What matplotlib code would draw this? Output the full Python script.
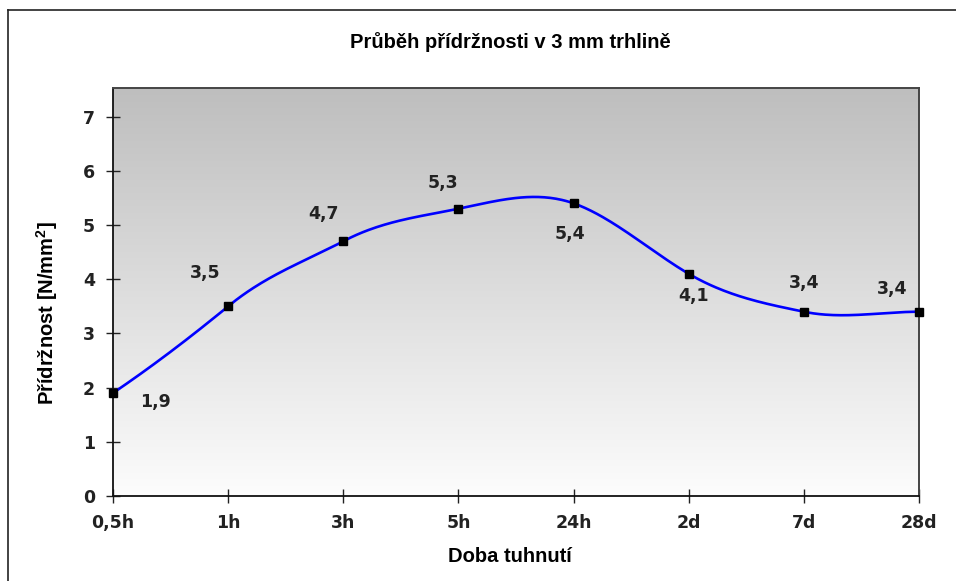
import numpy as np
import matplotlib
matplotlib.use("Agg")
import matplotlib.pyplot as plt
from matplotlib.lines import Line2D

categories = ["0,5h", "1h", "3h", "5h", "24h", "2d", "7d", "28d"]
values = [1.9, 3.5, 4.7, 5.3, 5.4, 4.1, 3.4, 3.4]
value_labels = ["1,9", "3,5", "4,7", "5,3", "5,4", "4,1", "3,4", "3,4"]
label_offsets = [(42, -9), (-23, 33), (-20, 27), (-15, 26), (-4, -31), (5, -22), (0, 29), (-27, 23)]
yticks = [0, 1, 2, 3, 4, 5, 6, 7]

W, H = 956, 581
fig = plt.figure(figsize=(W / 100, H / 100), dpi=100)
fig.patch.set_facecolor("white")

L, R, T, B = 113, 919, 88, 496
ax = fig.add_axes([L / W, 1 - B / H, (R - L) / W, (B - T) / H])
ymax = (496 - 88) / 54.2
nx = len(categories) - 1

# gradient background (dark at top, white at bottom)
grad = np.linspace(0, 1, 256).reshape(-1, 1)
top_c, bot_c = 0.745, 0.99
img = top_c + (bot_c - top_c) * grad
ax.imshow(np.dstack([img, img, img]), aspect="auto", extent=[0, nx, 0, ymax],
          origin="upper", zorder=0, interpolation="bilinear")
ax.set_xlim(0, nx)
ax.set_ylim(0, ymax)

# smooth curve (cardinal spline through data points)
x = np.arange(len(values), dtype=float)
y = np.array(values, dtype=float)
n = len(y)
m = np.zeros(n)
k = 1.25
for i in range(n):
    if i == 0:
        m[i] = (y[1] - y[0]) * 0.9
    elif i == n - 1:
        m[i] = (y[-1] - y[-2])
    else:
        m[i] = k * (y[i + 1] - y[i - 1]) / 2
xs, ys = [], []
for i in range(n - 1):
    t = np.linspace(0, 1, 60)
    h00 = 2 * t**3 - 3 * t**2 + 1
    h10 = t**3 - 2 * t**2 + t
    h01 = -2 * t**3 + 3 * t**2
    h11 = t**3 - t**2
    xs.append(x[i] + t)
    ys.append(h00 * y[i] + h10 * m[i] + h01 * y[i + 1] + h11 * m[i + 1])
xs = np.concatenate(xs)
ys = np.concatenate(ys)
ax.plot(xs, ys, color="#0000ff", lw=1.9, zorder=3, clip_on=False, solid_capstyle="round")
ax.plot(x, y, ls="none", marker="s", ms=6.3, color="black", zorder=4, clip_on=False)

for xi, yi, lab, (dx, dy) in zip(x, y, value_labels, label_offsets):
    ax.annotate(lab, (xi, yi), xytext=(dx * 0.72, dy * 0.72), textcoords="offset points",
                ha="center", va="center", fontsize=12.5, fontweight="bold",
                family="DejaVu Sans", color="#222222", zorder=5)

ax.set_xticks(x)
ax.set_xticklabels(categories)
ax.set_yticks(yticks)
ax.tick_params(axis="both", direction="inout", length=10, width=1.0, color="#222222",
               labelsize=12.5, labelcolor="#222222")
for lab in ax.get_xticklabels() + ax.get_yticklabels():
    lab.set_fontweight("bold")
    lab.set_family("DejaVu Sans")
ax.tick_params(axis="x", pad=8)
ax.tick_params(axis="y", pad=8)

for s in ["left", "bottom"]:
    ax.spines[s].set_color("#111111")
    ax.spines[s].set_linewidth(1.3)
for s in ["top", "right"]:
    ax.spines[s].set_color("#444444")
    ax.spines[s].set_linewidth(1.4)

fig.text(510 / W, 1 - 42 / H, "Průběh přídržnosti v 3 mm trhlině", ha="center", va="center",
         fontsize=14.5, fontweight="bold", family="Liberation Sans")
fig.text(510 / W, 1 - 556 / H, "Doba tuhnutí", ha="center", va="center",
         fontsize=14.5, fontweight="bold", family="Liberation Sans")
fig.text(47 / W, 1 - 313 / H, "Přídržnost [N/mm$^\\mathregular{2}$]", ha="center", va="center",
         rotation=90, fontsize=14.5, fontweight="bold", family="Liberation Sans")

# outer frame
fig.add_artist(Line2D([8 / W, 8 / W], [0, 1 - 10 / H], transform=fig.transFigure, color="#222222", lw=1.2))
fig.add_artist(Line2D([8 / W, 1], [1 - 10 / H, 1 - 10 / H], transform=fig.transFigure, color="#222222", lw=1.2))

fig.savefig("out.png", dpi=100)
